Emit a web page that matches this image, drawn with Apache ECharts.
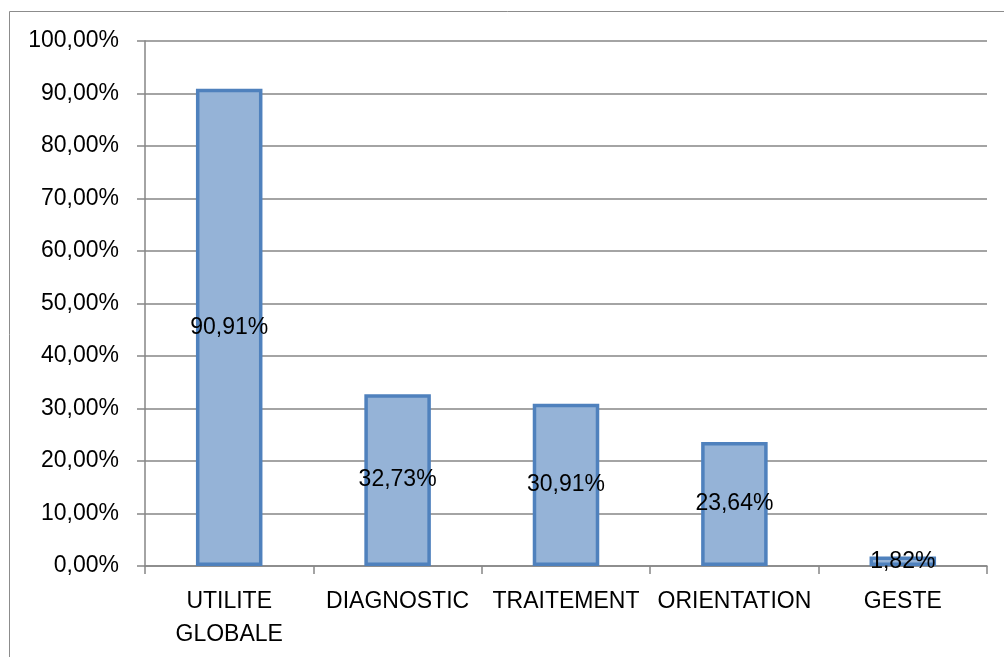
<!DOCTYPE html>
<html>
<head>
<meta charset="utf-8">
<script src="https://cdn.jsdelivr.net/npm/echarts@6/dist/echarts.min.js"></script>
<style>
html,body{margin:0;padding:0;background:#fff;}
#chart{width:1004px;height:657px;}
</style>
</head>
<body>
<div id="chart"></div>
<script>
const categories = ['UTILITE GLOBALE', 'DIAGNOSTIC', 'TRAITEMENT', 'ORIENTATION', 'GESTE'];
const values = [90.91, 32.73, 30.91, 23.64, 1.82];
const yTicks = { min: 0, max: 100, interval: 10 };

function pct(v) { return v.toFixed(2).replace('.', ',') + '%'; }

const chart = echarts.init(document.getElementById('chart'), null, { renderer: 'canvas' });
const font = '"Liberation Sans", Arial, sans-serif';
chart.setOption({
  animation: false,
  backgroundColor: '#fff',
  graphic: [{
    type: 'rect',
    shape: { x: 9.5, y: 11.5, width: 1100, height: 800 },
    style: { fill: 'none', stroke: '#8c8c8c', lineWidth: 1 },
    silent: true
  }],
  grid: { left: 145, right: 17, top: 41, bottom: 91 },
  xAxis: {
    type: 'category',
    data: categories,
    axisLine: { lineStyle: { color: '#868686', width: 1.5 } },
    axisTick: { show: true, length: 8, lineStyle: { color: '#868686', width: 1.5 } },
    axisLabel: {
      color: '#000', fontFamily: font, fontSize: 23, margin: 19, lineHeight: 33,
      interval: 0,
      formatter: v => v.replace(' ', '\n')
    }
  },
  yAxis: {
    type: 'value',
    min: yTicks.min, max: yTicks.max, interval: yTicks.interval,
    axisLine: { show: true, lineStyle: { color: '#868686', width: 1.5 } },
    axisTick: { show: true, length: 8, lineStyle: { color: '#868686', width: 1.5 } },
    splitLine: { lineStyle: { color: '#868686', width: 1.5 } },
    axisLabel: {
      color: '#000', fontFamily: font, fontSize: 23, margin: 26,
      formatter: v => pct(v)
    }
  },
  series: [{
    type: 'bar',
    data: values,
    barWidth: '39.5%',
    itemStyle: { color: '#95B3D7', borderColor: '#4F81BD', borderWidth: 3.5 },
    label: {
      show: true, position: 'inside', color: '#000', fontFamily: font, fontSize: 23,
      formatter: p => pct(p.value)
    }
  }]
});
</script>
</body>
</html>
